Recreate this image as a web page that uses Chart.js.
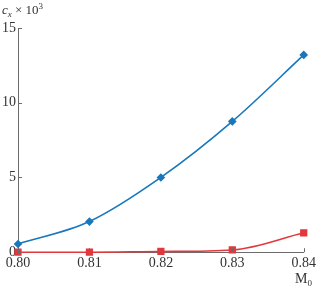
<!DOCTYPE html>
<html>
<head>
<meta charset="utf-8">
<script src="https://cdn.jsdelivr.net/npm/chart.js@4"></script>
<style>
  html, body { margin: 0; padding: 0; background: #fff; }
  #wrap { width: 319px; height: 290px; }
</style>
</head>
<body>
<div id="wrap"><canvas id="c"></canvas></div>
<script>
const machNumbers = [0.80, 0.81, 0.82, 0.83, 0.84];
const blueValues = [0.55, 2.05, 5.0, 8.75, 13.2];
const redValues = [0.0, 0.0, 0.05, 0.15, 1.3];
const xTicks = [0.80, 0.81, 0.82, 0.83, 0.84];
const yTicks = [0, 5, 10, 15];

const axisColour = '#6b6b6b';
const serif = '"Liberation Serif", "DejaVu Serif", serif';

function toPoints(values) {
    return machNumbers.map((m, i) => ({ x: m, y: values[i] }));
}

// inner tick marks + axis titles
const decorations = {
    id: 'decorations',
    afterDraw(chart) {
        const ctx = chart.ctx;
        const xs = chart.scales.x, ys = chart.scales.y;
        const area = chart.chartArea;
        ctx.save();
        ctx.strokeStyle = axisColour;
        ctx.lineWidth = 1;
        ctx.beginPath();
        xTicks.forEach(v => {
            const px = Math.round(xs.getPixelForValue(v)) + 0.5;
            ctx.moveTo(px, area.bottom);
            ctx.lineTo(px, area.bottom - 4);
        });
        yTicks.forEach(v => {
            const py = Math.round(ys.getPixelForValue(v)) + 0.5;
            ctx.moveTo(area.left, py);
            ctx.lineTo(area.left + 4, py);
        });
        ctx.stroke();

        ctx.fillStyle = '#333';
        ctx.textBaseline = 'alphabetic';
        // y title: c_x × 10^3
        let x = 2, y = 14;
        ctx.font = 'italic 13px ' + serif;
        ctx.fillText('c', x, y);
        x += ctx.measureText('c').width;
        ctx.font = 'italic 9px ' + serif;
        ctx.fillText('x', x, y + 3);
        x += ctx.measureText('x').width;
        ctx.font = '13px ' + serif;
        ctx.fillText(' \u00d7 10', x, y);
        x += ctx.measureText(' \u00d7 10').width;
        ctx.font = '9px ' + serif;
        ctx.fillText('3', x, y - 5);

        // x title: M_0
        x = 295; y = 283;
        ctx.font = '14px ' + serif;
        ctx.fillText('M', x, y);
        x += ctx.measureText('M').width;
        ctx.font = '9px ' + serif;
        ctx.fillText('0', x, y + 3);
        ctx.restore();
    }
};

new Chart(document.getElementById('c'), {
    type: 'scatter',
    data: {
        datasets: [
            {
                data: toPoints(blueValues),
                showLine: true,
                clip: false,
                borderColor: '#1877bd',
                backgroundColor: '#1877bd',
                borderWidth: 1.6,
                pointStyle: 'rectRot',
                pointRadius: 3.2,
                cubicInterpolationMode: 'monotone'
            },
            {
                data: toPoints(redValues),
                showLine: true,
                clip: false,
                borderColor: '#e0383c',
                backgroundColor: '#e0383c',
                borderWidth: 1.6,
                pointStyle: 'rect',
                pointRadius: 4,
                cubicInterpolationMode: 'monotone'
            }
        ]
    },
    options: {
        responsive: true,
        maintainAspectRatio: false,
        animation: false,
        layout: { padding: { left: 0, right: 11, top: 28, bottom: 15 } },
        plugins: { legend: { display: false }, tooltip: { enabled: false } },
        scales: {
            x: {
                type: 'linear',
                min: 0.80,
                max: 0.84,
                afterBuildTicks: axis => { axis.ticks = xTicks.map(v => ({ value: v })); },
                ticks: {
                    callback: v => v.toFixed(2),
                    color: '#333',
                    font: { family: serif, size: 14 },
                    padding: 3,
                    maxRotation: 0
                },
                grid: { display: false, drawTicks: false },
                border: { color: axisColour, width: 1 }
            },
            y: {
                min: 0,
                max: 15,
                afterBuildTicks: axis => { axis.ticks = yTicks.map(v => ({ value: v })); },
                ticks: {
                    color: '#333',
                    font: { family: serif, size: 14 },
                    padding: 2
                },
                grid: { display: false, drawTicks: false },
                border: { color: axisColour, width: 1 }
            }
        }
    },
    plugins: [decorations]
});
</script>
</body>
</html>
